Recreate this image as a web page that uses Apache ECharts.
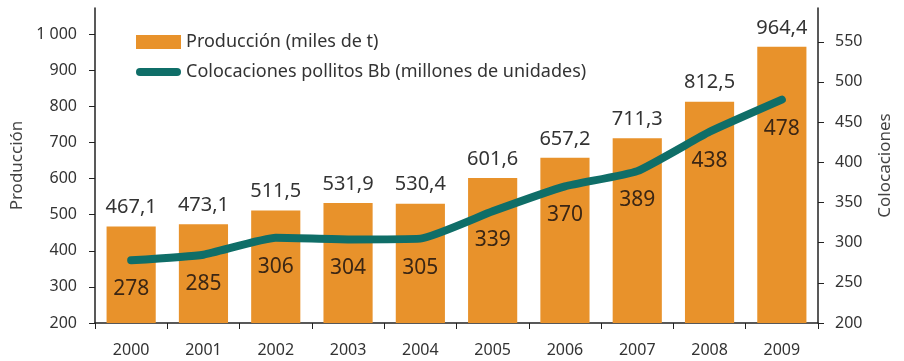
<!DOCTYPE html>
<html>
<head>
<meta charset="utf-8">
<script src="https://cdn.jsdelivr.net/npm/echarts@6/dist/echarts.min.js"></script>
<style>
  html, body { margin: 0; padding: 0; background: #fff; }
  #chart { width: 904px; height: 361px; }
</style>
</head>
<body>
<div id="chart"></div>
<script>
// Categories and series
const years = ['2000', '2001', '2002', '2003', '2004', '2005', '2006', '2007', '2008', '2009'];
const produccion = [467.1, 473.1, 511.5, 531.9, 530.4, 601.6, 657.2, 711.3, 812.5, 964.4];
const colocaciones = [278, 285, 306, 304, 305, 339, 370, 389, 438, 478];

// Tick values shown on each value axis
const leftTicks = [200, 300, 400, 500, 600, 700, 800, 900, 1000];
const rightTicks = [200, 250, 300, 350, 400, 450, 500, 550];

const FONT = 'Noto Sans';
const BAR_COLOR = '#E8922B';
const LINE_COLOR = '#0F6E68';
const chart = echarts.init(document.getElementById('chart'));

const fmtComma = v => String(v).replace('.', ',');
const fmtThousands = v => v >= 1000 ? '1 000' : String(v);

// Thick rounded stroke used as the line's legend key
const lineKey = 'path://M4,0 L41,0 A4,4 0 0 1 41,8 L4,8 A4,4 0 0 1 4,0 Z';

chart.setOption({
  animation: false,
  textStyle: { fontFamily: FONT },
  grid: { left: 95, right: 86, top: 8, bottom: 38 },
  legend: {
    orient: 'vertical',
    left: 131,
    top: 28,
    itemGap: 12,
    itemWidth: 45,
    itemHeight: 14,
    textStyle: { fontFamily: FONT, fontSize: 18, color: '#333' },
    data: [
      { name: 'Producción (miles de t)', icon: 'rect' },
      { name: 'Colocaciones pollitos Bb (millones de unidades)', icon: lineKey,
        itemStyle: { color: LINE_COLOR } }
    ]
  },
  xAxis: {
    type: 'category',
    data: years,
    axisLine: { lineStyle: { color: '#222', width: 1.5 } },
    axisTick: { show: true, length: 6, lineStyle: { color: '#222' } },
    axisLabel: { fontFamily: FONT, fontSize: 16, color: '#333', margin: 19 }
  },
  yAxis: [
    {
      type: 'value',
      min: 200,
      max: 1072,
      name: 'Producción',
      nameLocation: 'middle',
      nameGap: 66,
      nameRotate: 90,
      nameTextStyle: { fontFamily: FONT, fontSize: 17, color: '#444' },
      axisLine: { show: true, lineStyle: { color: '#222', width: 1.5 } },
      axisTick: { show: true, length: 6, customValues: leftTicks, lineStyle: { color: '#222' } },
      axisLabel: { fontFamily: FONT, fontSize: 16, color: '#333', margin: 18,
                   customValues: leftTicks, formatter: fmtThousands },
      splitLine: { show: false }
    },
    {
      type: 'value',
      min: 200,
      max: 592,
      name: 'Colocaciones',
      nameLocation: 'middle',
      nameGap: 59,
      nameRotate: 90,
      nameTextStyle: { fontFamily: FONT, fontSize: 17, color: '#444' },
      axisLine: { show: true, lineStyle: { color: '#222', width: 1.5 } },
      axisTick: { show: true, length: 6, customValues: rightTicks, lineStyle: { color: '#222' } },
      axisLabel: { fontFamily: FONT, fontSize: 16, color: '#333', margin: 17,
                   customValues: rightTicks },
      splitLine: { show: false }
    }
  ],
  series: [
    {
      name: 'Producción (miles de t)',
      type: 'bar',
      yAxisIndex: 0,
      data: produccion,
      barCategoryGap: '32%',
      itemStyle: { color: BAR_COLOR },
      label: {
        show: true,
        position: 'top',
        distance: 9,
        fontFamily: FONT,
        fontSize: 20,
        color: '#333',
        formatter: p => fmtComma(p.value)
      }
    },
    {
      name: 'Colocaciones pollitos Bb (millones de unidades)',
      type: 'line',
      yAxisIndex: 1,
      data: colocaciones,
      symbol: 'circle',
      symbolSize: 1,
      showSymbol: true,
      smooth: 0.15,
      lineStyle: { color: LINE_COLOR, width: 8, cap: 'round', join: 'round' },
      itemStyle: { color: LINE_COLOR },
      label: {
        show: true,
        position: 'bottom',
        distance: 18,
        fontFamily: FONT,
        fontSize: 21,
        color: '#3b2614'
      },
      z: 3
    }
  ]
});
</script>
</body>
</html>
